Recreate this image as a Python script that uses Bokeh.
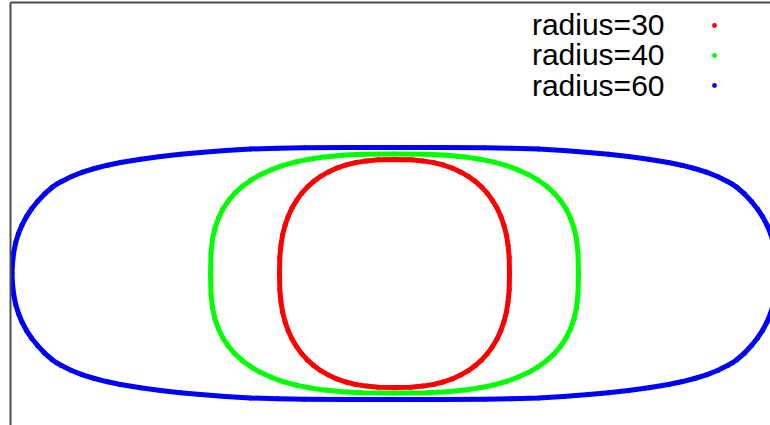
from bokeh.plotting import figure
from bokeh.models import Range1d, FixedTicker, Legend, LegendItem, Label
from bokeh.embed import file_html
from bokeh.resources import INLINE

labels = ["radius=30", "radius=40", "radius=60"]
colors = ["#ff0000", "#00ff00", "#0000ff"]

red_x = [115, 114.7, 113.6, 111.9, 109.4, 106.3, 102.5, 98.0, 92.9, 87.2, 80.8, 73.7, 66.0, 57.7, 48.8, 39.0, 28.3, 16.3, 0,
         -16.3, -28.3, -39.0, -48.8, -57.7, -66.0, -73.7, -80.8, -87.2, -92.9, -98.0, -102.5, -106.3, -109.4, -111.9, -113.6, -114.7, -115,
         -114.7, -113.6, -111.9, -109.4, -106.3, -102.5, -98.0, -92.9, -87.2, -80.8, -73.7, -66.0, -57.7, -48.8, -39.0, -28.3, -16.3, 0,
         16.3, 28.3, 39.0, 48.8, 57.7, 66.0, 73.7, 80.8, 87.2, 92.9, 98.0, 102.5, 106.3, 109.4, 111.9, 113.6, 114.7, 115]
red_y = [0, 16.2, 28.1, 38.7, 48.3, 57.2, 65.5, 73.1, 80.1, 86.4, 92.1, 97.2, 101.6, 105.4, 108.5, 110.9, 112.6, 113.7, 114,
         113.7, 112.6, 110.9, 108.5, 105.4, 101.6, 97.2, 92.1, 86.4, 80.1, 73.1, 65.5, 57.2, 48.3, 38.7, 28.1, 16.2, 0,
         -16.2, -28.1, -38.7, -48.3, -57.2, -65.5, -73.1, -80.1, -86.4, -92.1, -97.2, -101.6, -105.4, -108.5, -110.9, -112.6, -113.7, -114,
         -113.7, -112.6, -110.9, -108.5, -105.4, -101.6, -97.2, -92.1, -86.4, -80.1, -73.1, -65.5, -57.2, -48.3, -38.7, -28.1, -16.2, 0]

green_x = [184, 183.5, 182, 179.5, 176, 171.5, 166, 159.6, 152.1, 143.7, 134.2, 123.7, 112.2, 99.5, 85.5, 70.1, 52.7, 32.2, 0,
           -32.2, -52.7, -70.1, -85.5, -99.5, -112.2, -123.7, -134.2, -143.7, -152.1, -159.6, -166, -171.5, -176, -179.5, -182, -183.5, -184,
           -183.5, -182, -179.5, -176, -171.5, -166, -159.6, -152.1, -143.7, -134.2, -123.7, -112.2, -99.5, -85.5, -70.1, -52.7, -32.2, 0,
           32.2, 52.7, 70.1, 85.5, 99.5, 112.2, 123.7, 134.2, 143.7, 152.1, 159.6, 166, 171.5, 176, 179.5, 182, 183.5, 184]
green_y = [0, 20.9, 34.2, 45.5, 55.5, 64.6, 72.8, 80.3, 87.2, 93.3, 98.8, 103.6, 107.8, 111.4, 114.3, 116.6, 118.2, 119.2, 119.5,
           119.2, 118.2, 116.6, 114.3, 111.4, 107.8, 103.6, 98.8, 93.3, 87.2, 80.3, 72.8, 64.6, 55.5, 45.5, 34.2, 20.9, 0,
           -20.9, -34.2, -45.5, -55.5, -64.6, -72.8, -80.3, -87.2, -93.3, -98.8, -103.6, -107.8, -111.4, -114.3, -116.6, -118.2, -119.2, -119.5,
           -119.2, -118.2, -116.6, -114.3, -111.4, -107.8, -103.6, -98.8, -93.3, -87.2, -80.3, -72.8, -64.6, -55.5, -45.5, -34.2, -20.9, 0]

blue_x = [382.5, 382, 380.8, 378.8, 376, 372.5, 368, 363, 357, 350, 342, 338, 333, 323, 312, 300, 287, 274, 254, 234, 214, 194, 169, 144, 117, 90, 45, 0,
          -45, -90, -117, -144, -169, -194, -214, -234, -254, -274, -287, -300, -312, -323, -333, -338, -342, -350, -357, -363, -368, -372.5, -376, -378.8, -380.8, -382, -382.5,
          -382, -380.8, -378.8, -376, -372.5, -368, -363, -357, -350, -342, -338, -333, -323, -312, -300, -287, -274, -254, -234, -214, -194, -169, -144, -117, -90, -45, 0,
          45, 90, 117, 144, 169, 194, 214, 234, 254, 274, 287, 300, 312, 323, 333, 338, 342, 350, 357, 363, 368, 372.5, 376, 378.8, 380.8, 382, 382.5]
blue_y = [0, 10, 21, 31, 40, 48.5, 57, 64.5, 72, 79.5, 86.5, 89.3, 92, 97, 101.3, 105, 108.3, 111, 114.3, 117, 119.2, 121, 123, 124.5, 125.3, 125.7, 126, 126,
          126, 125.7, 125.3, 124.5, 123, 121, 119.2, 117, 114.3, 111, 108.3, 105, 101.3, 97, 92, 89.3, 86.5, 79.5, 72, 64.5, 57, 48.5, 40, 31, 21, 10, 0,
          -10, -21, -31, -40, -48.5, -57, -64.5, -72, -79.5, -86.5, -89.3, -92, -97, -101.3, -105, -108.3, -111, -114.3, -117, -119.2, -121, -123, -124.5, -125.3, -125.7, -126, -126,
          -126, -125.7, -125.3, -124.5, -123, -121, -119.2, -117, -114.3, -111, -108.3, -105, -101.3, -97, -92, -89.3, -86.5, -79.5, -72, -64.5, -57, -48.5, -40, -31, -21, -10, 0]

series_x = [red_x, green_x, blue_x]
series_y = [red_y, green_y, blue_y]

p = figure(width=770, height=425, output_backend="svg", toolbar_location=None,
           x_range=Range1d(-384, 376), y_range=Range1d(-152, 271),
           x_axis_location="above", y_axis_location="left",
           min_border_left=10, min_border_top=2, min_border_right=0, min_border_bottom=0)
p.outline_line_color = None
p.grid.visible = False
p.background_fill_color = "white"
p.border_fill_color = "white"
for ax in (p.xaxis[0], p.yaxis[0]):
    ax.ticker = FixedTicker(ticks=[])
    ax.axis_line_color = "#4a4a4a"
    ax.axis_line_width = 2
    ax.major_tick_line_color = None
    ax.minor_tick_line_color = None
    ax.major_tick_out = 0
    ax.major_tick_in = 0
    ax.major_label_standoff = 0

dot_renderers = []
for xs, ys, c in zip(series_x, series_y, colors):
    p.line(xs, ys, line_color=c, line_width=5, line_join="round", line_cap="round")
    r = p.scatter(xs, ys, size=5, fill_color=c, line_color=None)
    dot_renderers.append(r)

# legend texts (right aligned), then the legend's sample dots to their right
label_baselines = [400.8, 370.6, 340.4]
for lab, yb in zip(labels, label_baselines):
    p.add_layout(Label(x=654, y=yb, x_units="screen", y_units="screen", text=lab,
                       text_align="right", text_baseline="alphabetic",
                       text_font="Liberation Sans", text_font_size="30px",
                       text_color="black"))

leg = Legend(items=[LegendItem(label=" ", renderers=[r]) for r in dot_renderers],
             location=(698, 325.5), padding=0, margin=0, spacing=0,
             glyph_width=12, glyph_height=30, label_height=30, label_standoff=0,
             label_text_font_size="10px",
             border_line_color=None, background_fill_alpha=0)
p.add_layout(leg)

open("out.html", "w").write(file_html(p, INLINE))
